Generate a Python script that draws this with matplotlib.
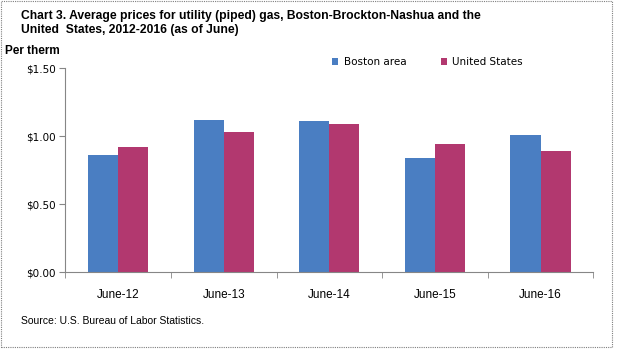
import numpy as np
import matplotlib
matplotlib.use('Agg')
from matplotlib import pyplot as plt
from matplotlib.patches import Rectangle

# data
categories = ['June-12', 'June-13', 'June-14', 'June-15', 'June-16']
boston = [0.86, 1.12, 1.11, 0.84, 1.01]
us = [0.92, 1.03, 1.09, 0.94, 0.89]
series_names = ['Boston area', 'United States']
yticks = [0.0, 0.5, 1.0, 1.5]

blue = '#4a7ec2'
red = '#b2386f'
narrow = ['Liberation Sans Narrow', 'Liberation Sans', 'DejaVu Sans']

fig = plt.figure(figsize=(6.34, 3.5), dpi=100)
W, H = 634.0, 350.0
ax = fig.add_axes([65.3 / W, (H - 272) / H, (593.3 - 65.3) / W, (272 - 68) / H])

x = np.arange(len(categories))
w = 0.285
ax.bar(x - w / 2, boston, w, color=blue, label=series_names[0])
ax.bar(x + w / 2, us, w, color=red, label=series_names[1])

ax.set_xlim(-0.5, len(categories) - 0.5)
ax.set_ylim(0, 1.5)
ax.set_yticks(yticks)
ax.set_yticklabels(['$%.2f' % v for v in yticks], family='DejaVu Sans', fontsize=7.5)
ax.set_xticks(x)
ax.set_xticklabels(categories, family=narrow, fontsize=8.5)
ax.set_xticks(np.arange(len(categories) + 1) - 0.5, minor=True)
ax.tick_params(axis='x', which='major', length=0, pad=12)
ax.tick_params(axis='x', which='minor', length=4, color='#868686')
ax.tick_params(axis='y', length=4, color='#868686', pad=3)
for s in ['top', 'right']:
    ax.spines[s].set_visible(False)
for s in ['left', 'bottom']:
    ax.spines[s].set_color('#868686')
    ax.spines[s].set_linewidth(0.8)

leg = ax.legend(loc='upper left', bbox_to_anchor=((328 - 65.3) / 528, 1.075), ncol=2,
                frameon=False, prop={'family': 'DejaVu Sans', 'size': 7.5},
                handlelength=0.6, handleheight=0.6, handletextpad=0.5,
                columnspacing=3.3, borderaxespad=0)

fig.text(21 / W, 1 - 9.5 / H, 'Chart 3. Average prices for utility (piped) gas, Boston-Brockton-Nashua and the\n'
         'United  States, 2012-2016 (as of June)', family=narrow, fontweight='bold',
         fontsize=8.7, va='top', ha='left', linespacing=1.3)
fig.text(5 / W, 1 - 51 / H, 'Per therm', family=narrow, fontweight='bold', fontsize=8.5,
         va='center', ha='left')
fig.text(21 / W, 1 - 321 / H, 'Source: U.S. Bureau of Labor Statistics.', family=narrow,
         fontsize=7.5, va='center', ha='left')

# dotted frame around the chart area
fig.patches.append(Rectangle((0.5 / W, 1 - 346.5 / H), 611 / W, 346 / H, transform=fig.transFigure,
                             fill=False, edgecolor='#7f7f7f', linewidth=0.8, linestyle=(0, (1, 1))))

fig.savefig('out.png', dpi=100)
